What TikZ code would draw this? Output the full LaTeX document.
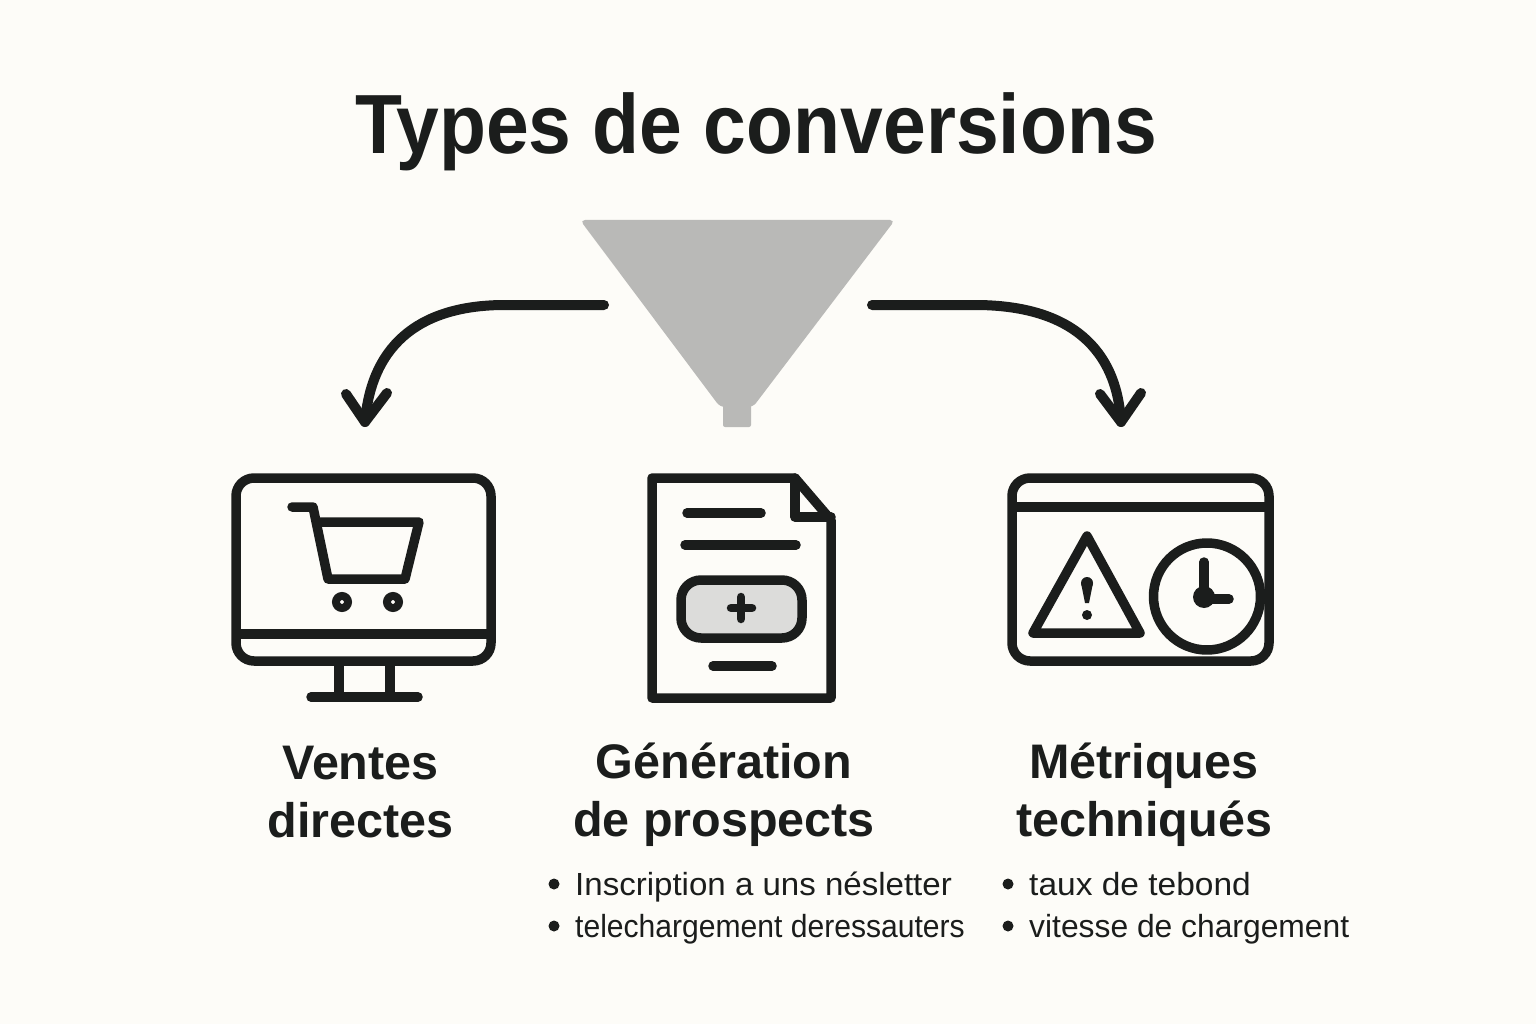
\documentclass[tikz,border=0pt]{standalone}
\usepackage{fontspec}
\setmainfont{Liberation Sans}
\newfontfamily\fonttitre[FakeStretch=0.915]{Liberation Sans}
\definecolor{papier}{HTML}{FDFCF8}
\definecolor{encre}{HTML}{1B1D1C}
\definecolor{entonnoir}{HTML}{B9B9B7}
\definecolor{bouton}{HTML}{DCDCDA}
\tikzset{
	icone/.style={draw=encre,line width=9.5pt,line join=round,line cap=round},
	fleche/.style={draw=encre,line width=10pt,line cap=round,line join=round},
	titre/.style={font=\fonttitre\bfseries\fontsize{84}{84}\selectfont,text=encre,inner sep=0pt},
	rubrique/.style={font=\bfseries\fontsize{48.5}{58}\selectfont,text=encre,inner sep=0pt,align=center},
	liste/.style={font=\fontsize{32}{32}\selectfont,text=encre,inner sep=0pt,anchor=base west},
	puce/.style={fill=encre,circle,inner sep=0pt,minimum size=11pt}
}
\begin{document}
\begin{tikzpicture}[x=1pt,y=-1pt]
	\useasboundingbox (0,0) rectangle (1536,1024);
	\fill[papier] (0,0) rectangle (1536,1024);
	\node[titre] (titre) at (756,132) {Types de conversions};
	% entonnoir
	\fill[entonnoir,rounded corners=5pt] (580,220)--(895,220)--(753,407)--(720,407)--cycle;
	\fill[entonnoir,rounded corners=2pt] (723,400)--(751,400)--(751,427)--(723,427)--cycle;
	% fleches
	\coordinate (gd) at (604,305);
	\coordinate (gf) at (365,422);
	\coordinate (dd) at (872,305);
	\coordinate (df) at (1121,422);
	\draw[fleche] (gd)--(505,305)..controls (425,305) and (372,340)..(gf);
	\draw[fleche] (346,394)--(gf)--(387,393);
	\draw[fleche] (dd)--(975,305)..controls (1060,305) and (1116,340)..(df);
	\draw[fleche] (1100,394)--(df)--(1141,393);
	% ecran
	\draw[icone,rounded corners=18pt] (236,478) rectangle (491,661);
	\draw[icone,line cap=butt] (236,634)--(491,634);
	\draw[icone,line cap=butt] (339,661)--(339,697) (390,661)--(390,697);
	\draw[icone] (311,697)--(418,697);
	\draw[icone] (292,507)--(313,507)--(328,579)--(405,579)--(419,522)--(318,522);
	\draw[encre,line width=8pt] (342,602) circle (6pt) (393,602) circle (6pt);
	% formulaire
	\draw[icone] (652,478)--(795,478)--(831,520)--(831,698)--(652,698)--cycle;
	\draw[icone] (795,478)--(795,517)--(831,517);
	\draw[icone] (687,513)--(761,513);
	\draw[icone] (685,545)--(796,545);
	\draw[icone,fill=bouton,rounded corners=20pt] (681,580) rectangle (802,638);
	\draw[icone,line width=8.5pt] (741,597)--(741,619) (731,608)--(752,608);
	\draw[icone] (713,666)--(772,666);
	% fenetre
	\draw[icone,rounded corners=18pt] (1012,478) rectangle (1269,661);
	\draw[icone,line cap=butt] (1012,507)--(1269,507);
	\draw[icone] (1087,536)--(1033,633)--(1140,633)--cycle;
	\fill[encre] (1081,583)--(1093,583)--(1089,603)--(1085,603)--cycle;
	\fill[encre] (1087,583) circle (6pt);
	\fill[encre] (1087,615) circle (5pt);
	\draw[icone] (1207,596.5) circle (53.5pt);
	\draw[icone] (1204,562)--(1204,599)--(1229,599);
	\fill[encre] (1204,597) circle (11pt);
	% textes
	\node[rubrique] (ventes) at (360.5,792) {Ventes\\directes};
	\node[rubrique] (generation) at (724,795) {Génération\\de prospects};
	\node[rubrique] (metriques) at (1144,795) {Métriques\\techniqués};
	\foreach \ya/\xa/\ech/\texte in {895/575/1.033/Inscription a uns nésletter,937/575/0.94/telechargement deressauters,895/1029/1.047/taux de tebond,937/1029/0.994/vitesse de chargement}
		\node[liste] at (\xa,\ya) {\scalebox{\ech}[1]{\texte}};
	\foreach \ya/\xa in {884/554,926/554,884/1008,926/1008}
		\node[puce] at (\xa,\ya) {};
\end{tikzpicture}
\end{document}
